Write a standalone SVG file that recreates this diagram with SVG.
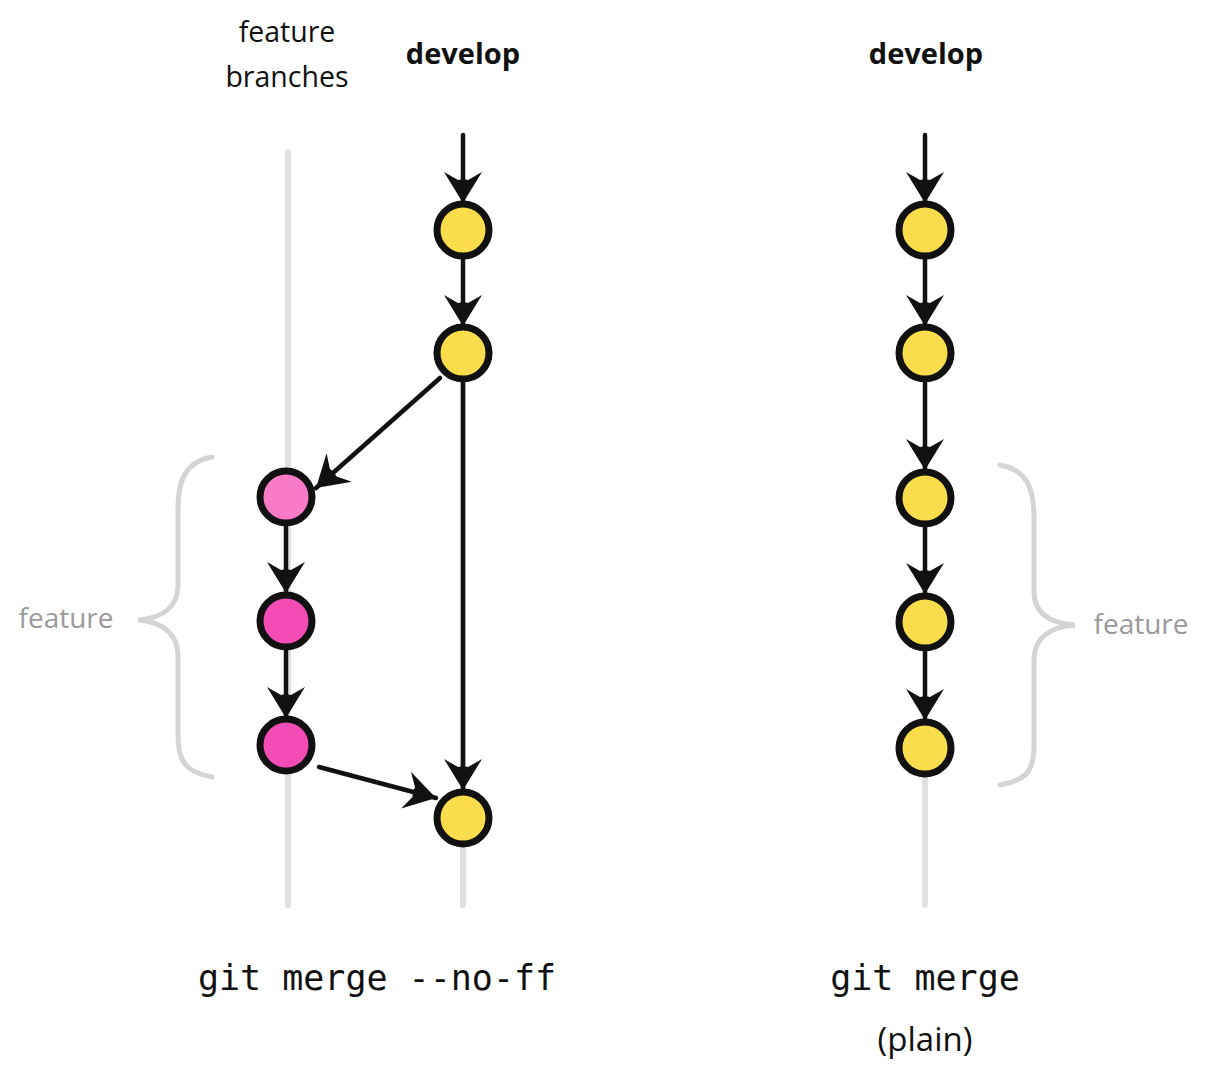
<svg xmlns="http://www.w3.org/2000/svg" width="1211" height="1080" viewBox="0 0 1211 1080">
<style>
.lbl{font-family:"Open Sans","Noto Sans","DejaVu Sans",sans-serif;font-size:28.5px;fill:#111;text-anchor:middle}
.bold{font-weight:bold;font-size:29px}
.gray{fill:#999;font-size:28px}
.mono{font-family:"DejaVu Sans Mono","Liberation Mono",monospace;font-size:35px;fill:#111;text-anchor:middle}
.lane{stroke:#e0e0e0;stroke-width:6;fill:none;stroke-linecap:round}
.brace{stroke:#d4d4d4;stroke-width:5;fill:none;stroke-linecap:round}
.edge{stroke:#111;stroke-width:4.5;fill:none;stroke-linecap:round;marker-end:url(#ah)}
.n{stroke:#111;stroke-width:7}
.y{fill:#fbdc4a}
.p1{fill:#f97ac6}
.p2{fill:#f44cb6}
</style>
<defs>
<marker id="ah" markerUnits="userSpaceOnUse" viewBox="-34 -22 36 44" refX="0" refY="0" markerWidth="36" markerHeight="44" orient="auto">
<path d="M0,0 L-31,-19 L-23,-5 L-24,0 L-23,5 L-31,19 Z" fill="#111"/>
</marker>
</defs>
<rect width="1211" height="1080" fill="#fff"/>
<g id="lanes">
<line class="lane" x1="288" y1="152" x2="288" y2="905"/>
<line class="lane" x1="463" y1="380" x2="463" y2="905"/>
<line class="lane" x1="925" y1="770" x2="925" y2="905"/>
</g>
<g id="braces">
<path class="brace" d="M212,457 C185,462 178,480 178,510 L178,585 C178,605 165,618 138,620 C165,622 178,636 178,656 L178,735 C178,762 186,772 212,777"/>
<path class="brace" d="M1000,465 C1027,470 1034,488 1034,518 L1034,592 C1034,612 1047,623 1075,625 C1047,627 1034,640 1034,660 L1034,745 C1034,772 1026,780 1000,785"/>
</g>
<g id="connectors">
<line class="edge" x1="463" y1="135" x2="463" y2="203"/>
<line class="edge" x1="463" y1="259" x2="463" y2="326"/>
<line class="edge" x1="463" y1="383" x2="463" y2="790"/>
<line class="edge" x1="440" y1="378" x2="316" y2="488"/>
<line class="edge" x1="286" y1="526" x2="286" y2="593"/>
<line class="edge" x1="286" y1="650" x2="286" y2="718"/>
<line class="edge" x1="319" y1="767" x2="436" y2="798"/>
<line class="edge" x1="925" y1="135" x2="925" y2="203"/>
<line class="edge" x1="925" y1="259" x2="925" y2="326"/>
<line class="edge" x1="925" y1="383" x2="925" y2="470"/>
<line class="edge" x1="925" y1="527" x2="925" y2="594"/>
<line class="edge" x1="925" y1="651" x2="925" y2="720"/>
</g>
<g id="d1"><circle class="n y" cx="463" cy="230" r="26"/></g>
<g id="d2"><circle class="n y" cx="463" cy="353" r="26"/></g>
<g id="d3"><circle class="n y" cx="463" cy="818" r="26"/></g>
<g id="f1"><circle class="n p1" cx="286" cy="497" r="26"/></g>
<g id="f2"><circle class="n p2" cx="286" cy="621" r="26"/></g>
<g id="f3"><circle class="n p2" cx="286" cy="745" r="26"/></g>
<g id="r1"><circle class="n y" cx="925" cy="230" r="26"/></g>
<g id="r2"><circle class="n y" cx="925" cy="353" r="26"/></g>
<g id="r3"><circle class="n y" cx="925" cy="498" r="26"/></g>
<g id="r4"><circle class="n y" cx="925" cy="622" r="26"/></g>
<g id="r5"><circle class="n y" cx="925" cy="748" r="26"/></g>
<g id="labels">
<text class="lbl" x="287" y="42">feature</text>
<text class="lbl" x="287" y="87">branches</text>
<text class="lbl bold" x="463" y="64">develop</text>
<text class="lbl bold" x="926" y="64">develop</text>
<text class="lbl gray" x="66" y="628">feature</text>
<text class="lbl gray" x="1141" y="634">feature</text>
<text class="mono" x="377" y="990">git merge --no-ff</text>
<text class="mono" x="925" y="990">git merge</text>
<text class="lbl" x="925" y="1051" style="font-size:33px">(plain)</text>
</g>
</svg>
